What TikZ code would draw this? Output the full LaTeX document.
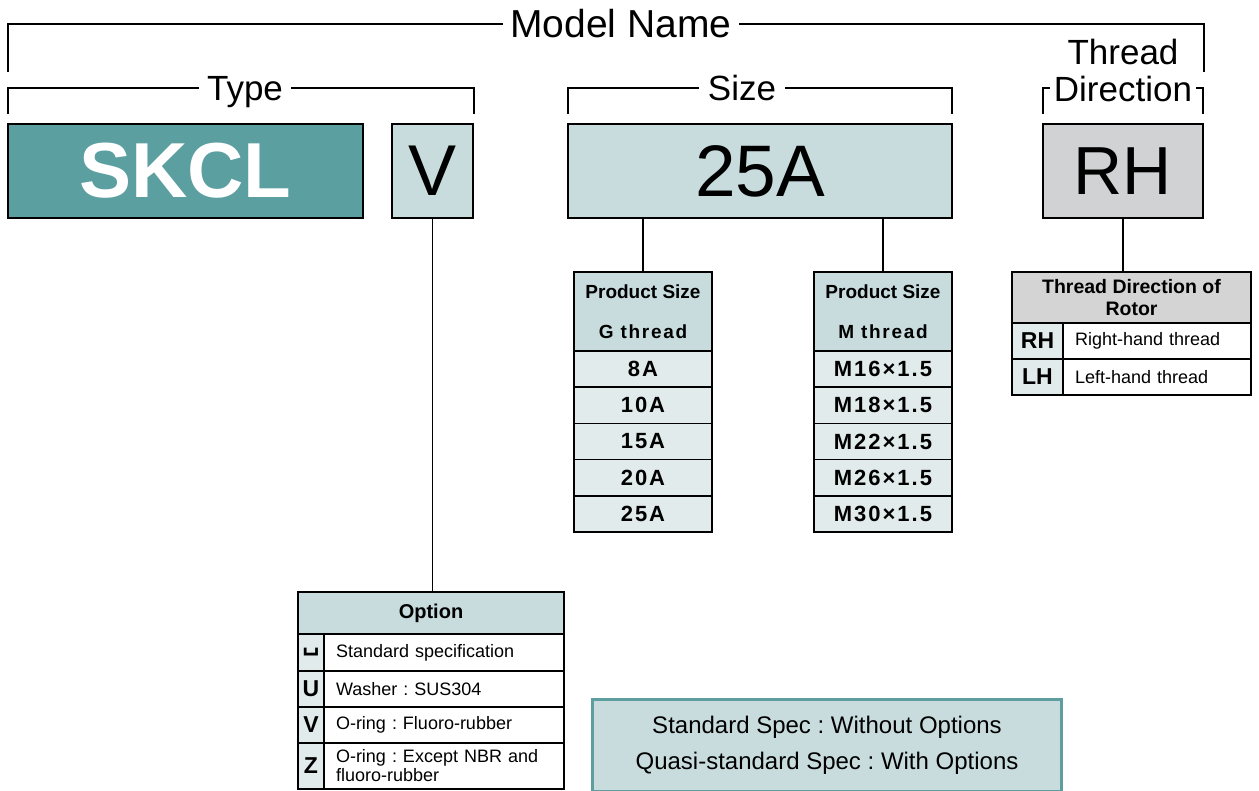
\documentclass[tikz,border=0pt]{standalone}
\usepackage{fontspec}
\setmainfont{Liberation Sans}
\newfontfamily\widefont[LetterSpace=9]{Liberation Sans}
\newfontfamily\dvfont{DejaVu Sans}
\newcommand\fsz[2]{\fontsize{#1}{#2}\selectfont}
\definecolor{tealA}{HTML}{5B9FA0}
\definecolor{tealB}{HTML}{5E9E9E}
\definecolor{hdr}{HTML}{C8DCDE}
\definecolor{rowc}{HTML}{E2EBEC}
\definecolor{rhgrey}{HTML}{D1D2D3}
\definecolor{tdgrey}{HTML}{D4D4D4}
\frenchspacing
\begin{document}
\begin{tikzpicture}[x=1pt,y=-1pt,line join=miter,
  frame/.style={draw=black,line width=1.8pt},
  cell/.style={draw=black,line width=1.6pt,inner sep=0pt,outer sep=0pt,anchor=north west},
  bigbox/.style={cell,minimum height=94pt},
  lbl/.style={font=\fsz{35}{36},inner sep=0pt,anchor=base},
  hcell/.style={cell,fill=hdr,align=center},
  numcell/.style={cell,fill=rowc,minimum width=138pt,minimum height=36.2pt,font=\widefont\bfseries\fsz{22}{24}},
  keycell/.style={cell,fill=rowc,font=\bfseries\fsz{23}{24}},
  desccell/.style={cell,fill=white,align=left,inner xsep=12pt,font=\fsz{18}{19}}]
\useasboundingbox (0,0) rectangle (1259,791);

% brackets
\draw[frame] (8,72) -- (8,24) -- (1204,24) -- (1204,72);
\node[font=\fsz{39}{40},fill=white,inner xsep=7pt,inner ysep=2pt] (mn) at (621,24) {Model Name};
\draw[frame] (8,114) -- (8,88) -- (474,88) -- (474,114);
\node[lbl,fill=white,inner xsep=8pt] (typ) at (245,101) {Type};
\draw[frame] (568,114) -- (568,88) -- (952,88) -- (952,114);
\node[lbl,fill=white,inner xsep=9pt] (siz) at (742,101) {Size};
\draw[frame] (1043,114) -- (1043,88) -- (1203,88) -- (1203,114);
\node[lbl] (thr) at (1123,65) {Thread};
\node[lbl,fill=white,inner xsep=4pt] (dir) at (1123,102) {Direction};

% code boxes
\node[bigbox,fill=tealA,minimum width=355pt,text=white,font=\bfseries\fsz{78}{80}] (skcl) at (8,124) {SKCL};
\node[bigbox,fill=hdr,minimum width=81pt,font=\fsz{72}{76}] (vbox) at (392,124) {V};
\node[bigbox,fill=hdr,minimum width=384pt,font=\fsz{73}{76}] (size) at (568,124) {25A};
\node[bigbox,fill=rhgrey,minimum width=160pt,font=\fsz{68}{72}] (rh) at (1043,124) {RH};

% G thread table
\node[hcell,minimum width=138pt,minimum height=79pt,font=\bfseries\fsz{19}{40}] (gh) at (574,272) {Product Size\\{\widefont\bfseries G thread}};
\foreach \t [count=\i] in {8A,10A,15A,20A,25A}
  \node[numcell] (g\i) at (574,{351+36.2*(\i-1)}) {\t};
% M thread table
\node[hcell,minimum width=138pt,minimum height=79pt,font=\bfseries\fsz{19}{40}] (mh) at (814,272) {Product Size\\{\widefont\bfseries M thread}};
\foreach \t [count=\i] in {M16×1.5,M18×1.5,M22×1.5,M26×1.5,M30×1.5}
  \node[numcell] (m\i) at (814,{351+36.2*(\i-1)}) {\t};

% thread direction table
\node[hcell,fill=tdgrey,minimum width=239pt,minimum height=51pt,font=\bfseries\fsz{19.5}{22}] (tdh) at (1012,272) {Thread Direction of\\Rotor};
\node[keycell,minimum width=51pt,minimum height=36pt] (tdk1) at (1012,323) {RH};
\node[desccell,minimum height=36pt,text width=164pt] (tdd1) at (1063,323) {Right-hand thread};
\node[keycell,minimum width=51pt,minimum height=36pt] (tdk2) at (1012,359) {LH};
\node[desccell,minimum height=36pt,text width=164pt] (tdd2) at (1063,359) {Left-hand thread};

% option table
\node[hcell,minimum width=266pt,minimum height=42pt,font=\bfseries\fsz{20}{22}] (opt) at (298,592) {Option};
\node[keycell,minimum width=26pt,minimum height=37pt,font=\dvfont\bfseries\fsz{24}{26}] (ok1) at (298,634) {␣};
\node[desccell,minimum height=37pt,text width=216pt] (od1) at (324,634) {Standard specification};
\node[keycell,minimum width=26pt,minimum height=36pt] (ok2) at (298,671) {U};
\node[desccell,minimum height=36pt,text width=216pt] (od2) at (324,671) {Washer : SUS304};
\node[keycell,minimum width=26pt,minimum height=36pt] (ok3) at (298,707) {V};
\node[desccell,minimum height=36pt,text width=216pt] (od3) at (324,707) {O-ring : Fluoro-rubber};
\node[keycell,minimum width=26pt,minimum height=46pt] (ok4) at (298,743) {Z};
\node[desccell,minimum height=46pt,text width=216pt] (od4) at (324,743) {O-ring : Except NBR and\\fluoro-rubber};

% connectors
\draw[frame] (vbox.south) -- (vbox.south |- opt.north);
\draw[frame] (gh.north |- size.south) -- (gh.north);
\draw[frame] (mh.north |- size.south) -- (mh.north);
\draw[frame] (rh.south) -- (rh.south |- tdh.north);

% note
\node[draw=tealB,line width=3pt,fill=hdr,minimum width=469pt,minimum height=92pt,anchor=north west,align=center,font=\fsz{24}{36}] (note) at (591,698) {Standard Spec : Without Options\\Quasi-standard Spec : With Options};
\end{tikzpicture}
\end{document}
